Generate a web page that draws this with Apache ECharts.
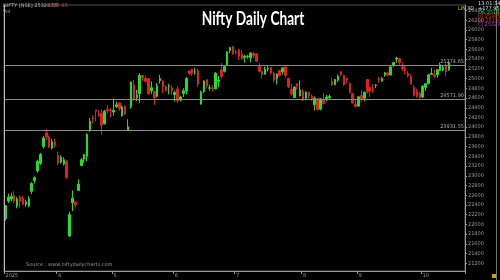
<!DOCTYPE html>
<html><head><meta charset="utf-8">
<script src="https://cdn.jsdelivr.net/npm/echarts@6/dist/echarts.min.js"></script>
<style>html,body{margin:0;padding:0;background:#000}#c{width:500px;height:280px}</style>
</head><body><div id="c"></div>
<script>
const categories = ['03-04','03-05','03-06','03-07','03-10','03-11','03-12','03-13','03-17','03-18','03-19','03-20','03-21','03-24','03-25','03-26','03-27','03-28',
'04-01','04-02','04-03','04-04','04-07','04-08','04-09','04-11','04-15','04-16','04-17','04-21','04-22','04-23','04-24','04-25','04-28','04-29','04-30',
'05-02','05-05','05-06','05-07','05-08','05-09','05-12','05-13','05-14','05-15','05-16','05-19','05-20','05-21','05-22','05-23','05-26','05-27','05-28','05-29','05-30',
'06-02','06-03','06-04','06-05','06-06','06-09','06-10','06-11','06-12','06-13','06-16','06-17','06-18','06-19','06-20','06-23','06-24','06-25','06-26','06-27','06-30',
'07-01','07-02','07-03','07-04','07-07','07-08','07-09','07-10','07-11','07-14','07-15','07-16','07-17','07-18','07-21','07-22','07-23','07-24','07-25','07-28','07-29','07-30','07-31',
'08-01','08-04','08-05','08-06','08-07','08-08','08-11','08-12','08-13','08-14','08-18','08-19','08-20','08-21','08-22','08-25','08-26','08-28','08-29',
'09-01','09-02','09-03','09-04','09-05','09-08','09-09','09-10','09-11','09-12','09-15','09-16','09-17','09-18','09-19','09-22','09-23','09-24','09-25','09-26','09-29','09-30',
'10-01','10-03','10-06','10-07','10-08','10-09','10-10','10-13','10-14','10-15'];

const openVals = [22115,22480,22520,22590,22380,22560,22540,22410,22380,22680,22900,23100,23260,23600,23880,23800,23570,23700,
23420,23280,23240,23300,21760,22446,22460,22695,23207,23345,23401,23949,24186,24357,24277,24289,24070,24371,24342,
24311,24419,24500,24233,24431,23935,24420,24864,24614,24694,25064,25005,24996,24744,24733,24639,24956,24957,24832,24826,24812,
24669,24786,24560,24691,24748,25160,25196,25134,25164,24473,24732,24977,24803,24803,24787,24939,25179,25150,25268,25576,25661,
25552,25588,25505,25427,25451,25427,25515,25512,25256,25149,25089,25196,25231,25108,24999,25167,25139,25243,25010,24782,24609,24890,24643,
24734,24596,24720,24642,24464,24586,24371,24563,24586,24607,24939,24876,24965,25142,25064,25000,24899,24695,24467,
24433,24653,24596,24980,24819,24802,24864,24992,24945,25074,25119,25073,25276,25402,25410,25239,25209,25108,25034,24818,24728,24691,
24620,24819,24900,25085,25079,25075,25167,25177,25277,25181];

const highVals = [22400,22630,22650,22680,22560,22600,22580,22500,22580,22870,22990,23330,23470,23820,23960,23830,23760,23760,
23500,23420,23380,23320,22260,22697,22468,22924,23368,23452,23872,24189,24242,24359,24348,24365,24355,24457,24396,
24589,24526,24509,24449,24447,24164,24944,24974,24767,25116,25070,25062,25010,24946,24737,24909,25079,24958,24864,24892,24864,
24754,24845,24644,24800,25030,25160,25199,25223,25196,24754,24967,24982,24872,24863,25136,25058,25318,25266,25565,25654,25669,
25593,25608,25587,25490,25490,25549,25548,25525,25322,25152,25245,25255,25238,25144,25111,25182,25233,25247,25011,24889,24848,24902,24956,
24784,24736,24733,24671,24634,24596,24600,24702,24664,24674,25022,24993,25088,25154,25085,25021,24919,24702,24572,
24636,24756,24737,24980,24832,24885,24891,25036,25037,25140,25138,25260,25346,25449,25428,25331,25261,25151,25092,24868,24791,24731,
24867,24904,25095,25220,25190,25199,25330,25267,25310,25365];

const lowVals = [22080,22440,22470,22430,22330,22340,22390,22360,22350,22620,22840,23060,23220,23560,23740,23570,23540,23580,
23220,23250,23210,22930,21743,22271,22353,22695,23207,23273,23298,23903,24072,24119,24216,23847,24054,24290,24198,
24238,24400,24331,24221,24255,23935,24378,24547,24535,24494,24953,24917,24669,24685,24462,24614,24900,24704,24737,24677,24669,
24526,24502,24530,24620,24671,25077,25060,25081,24825,24473,24703,24813,24750,24733,24783,24824,24999,25125,25259,25523,25489,
25501,25379,25384,25331,25407,25331,25425,25340,25129,25001,25088,25145,25086,24918,24882,25036,25085,25019,24806,24646,24599,24771,24636,
24535,24554,24590,24539,24344,24337,24347,24465,24539,24563,24852,24860,24929,25054,24850,24901,24689,24481,24405,
24432,24522,24533,24695,24621,24701,24807,24916,24940,25038,25052,25070,25236,25330,25286,25151,25084,25027,24878,24630,24606,24588,
24605,24747,24881,25076,25008,25024,25157,25152,25060,25159];

const closeVals = [22383,22560,22575,22480,22520,22470,22420,22460,22520,22840,22960,23300,23440,23780,23800,23590,23700,23630,
23260,23380,23330,22970,22200,22536,22399,22829,23329,23437,23852,24125,24167,24329,24247,24039,24328,24336,24334,
24347,24461,24380,24414,24273,24008,24925,24578,24667,25062,25020,24945,24684,24813,24610,24853,25002,24826,24752,24834,24751,
24716,24543,24620,24751,25003,25103,25104,25141,24888,24719,24947,24853,24812,24793,25112,24972,25044,25245,25549,25637,25517,
25542,25454,25406,25461,25461,25523,25476,25355,25150,25082,25196,25212,25111,24968,25091,25061,25220,25062,24837,24681,24821,24855,24768,
24565,24723,24650,24574,24597,24363,24585,24487,24619,24631,24877,24980,25051,25084,24870,24968,24713,24501,24427,
24625,24580,24716,24734,24741,24773,24869,24973,25006,25114,25069,25239,25330,25424,25327,25202,25169,25057,24891,24655,24634,24611,
24837,24895,25078,25108,25046,25182,25285,25227,25146,25324];

const levelValues = [25274.65, 24571.90, 23931.55];
const yTickLabels = [21200,21400,21600,21800,22000,22200,22400,22600,22800,23000,23200,23400,23600,23800,24000,24200,24400,24600,24800,25000,25200,25400,25600,25800,26000,26200,26400];
const monthLabels = ['2025','4','5','6','7','8','9','10'];
const trailingSlots = 5;

const xData = categories.concat(new Array(trailingSlots).fill(''));
const candles = categories.map((_, i) => [openVals[i], closeVals[i], lowVals[i], highVals[i]]);

const tickIdx = [0];
for (let i = 1; i < categories.length; i++) {
  if (categories[i].slice(0, 2) !== categories[i - 1].slice(0, 2)) tickIdx.push(i);
}
const tickMap = {};
tickIdx.forEach((idx, k) => { tickMap[idx] = monthLabels[k]; });

const lastClose = closeVals[closeVals.length - 1];

const chart = echarts.init(document.getElementById('c'), null, { renderer: 'canvas' });
const small = { fontSize: 5, fontFamily: 'DejaVu Sans' };

chart.setOption({
  backgroundColor: '#000',
  animation: false,
  grid: { left: 4, right: 35, top: 5, bottom: 9, show: true, borderColor: '#555', borderWidth: 1, backgroundColor: '#000' },
  xAxis: {
    type: 'category', data: xData, boundaryGap: true,
    axisLine: { lineStyle: { color: '#999' } },
    axisTick: { show: true, interval: (i) => tickMap[i] !== undefined, length: 3, lineStyle: { color: '#999' } },
    axisLabel: { interval: (i) => tickMap[i] !== undefined, formatter: (v, i) => tickMap[i] || '', color: '#999', margin: 2, ...small, align: 'left' },
    splitLine: { show: false }
  },
  yAxis: {
    type: 'value', position: 'right', min: 21040, max: 26515, scale: true,
    axisLine: { show: true, lineStyle: { color: '#999' } },
    axisTick: { show: true, customValues: yTickLabels, length: 2, lineStyle: { color: '#999' } },
    axisLabel: { customValues: yTickLabels, formatter: (v) => String(v), color: '#999', margin: 3, ...small },
    splitLine: { show: false }
  },
  series: [{
    type: 'candlestick', data: candles, barWidth: 2,
    itemStyle: { color: '#22dd22', color0: '#dd2020', borderColor: '#22dd22', borderColor0: '#dd2020', borderWidth: 1 },
    markLine: {
      symbol: 'none', silent: true, animation: false,
      data: levelValues.map(v => ({
        yAxis: v,
        lineStyle: { color: '#8a8a8a', width: 1, type: 'solid' },
        label: { show: true, position: 'insideEndTop', formatter: v.toFixed(2), color: '#aaa', distance: 1, ...small }
      })).concat([{
        yAxis: lastClose,
        lineStyle: { opacity: 0 },
        label: { show: true, position: 'end', formatter: (lastClose - 0.45).toFixed(2), color: '#000', backgroundColor: '#ddd', padding: [1, 2], distance: 1, ...small }
      }])
    }
  }],
  graphic: [
    { type: 'text', x: 253, y: 19, scaleX: 0.76, z: 50,
      style: { text: 'Nifty Daily Chart', x: 0, y: 0, align: 'center', verticalAlign: 'middle', fill: '#fff', fontSize: 18, fontWeight: 'bold', fontFamily: 'Lato' } },
    { type: 'line', shape: { x1: 4.5, y1: 5, x2: 4.5, y2: 271 }, style: { stroke: '#bbb', lineWidth: 1 }, z: 100 },
    { type: 'line', shape: { x1: 496.5, y1: 0, x2: 496.5, y2: 280 }, style: { stroke: '#777', lineWidth: 1 } },
    { type: 'text', left: 3, top: 3, style: { text: 'NIFTY [NSE] 25323.55', fill: '#aaa', ...small } },
    { type: 'text', left: 46, top: 3, style: { text: '+177.95', fill: '#e03030', ...small } },
    { type: 'text', left: 3, top: 9, style: { text: 'Vol', fill: '#33cc33', ...small } },
    { type: 'text', left: 458, top: 6, style: { text: 'LIN', fill: '#bbcc44', ...small } },
    { type: 'text', left: 467, top: 6, style: { text: '3D', fill: '#ddd', ...small } },
    { type: 'text', left: 478, top: 1, style: { text: '13:01:34', fill: '#ddd', ...small } },
    { type: 'text', left: 478, top: 6, style: { text: '+177.95 0.7', fill: '#ddd', ...small } },
    { type: 'text', left: 478, top: 10, style: { text: 'Op 25181.0', fill: '#33cc33', ...small } },
    { type: 'text', left: 478, top: 14, style: { text: 'Hi 25365.5', fill: '#e03030', ...small } },
    { type: 'text', left: 478, top: 18, style: { text: 'Lo 25159.4', fill: '#e03030', ...small } },
    { type: 'text', left: 478, top: 22, style: { text: 'Cl 25323.5', fill: '#b040c0', ...small } },
    { type: 'text', left: 26, top: 262, style: { text: 'Source : www.niftydailycharts.com', fill: '#999', ...small } },
    { type: 'rect', shape: { x: 492, y: 274, width: 4, height: 4 }, style: { fill: '#c8a020' } }
  ]
});
</script>
</body></html>
